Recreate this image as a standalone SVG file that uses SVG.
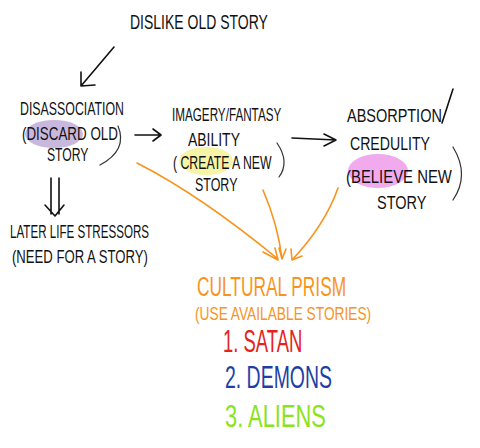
<svg xmlns="http://www.w3.org/2000/svg" width="480" height="448" viewBox="0 0 480 448">
<style>
text{font-family:"Liberation Sans",Arial,sans-serif;font-size:19px;fill:#111}
text.top{font-size:20px}
text.cp{font-size:28px}
text.big{font-size:32px}
.o{fill:#f7941d}
.ln{fill:none;stroke:#111;stroke-width:1.6;stroke-linecap:round;stroke-linejoin:round}
.par{fill:none;stroke:#333;stroke-width:1.2;stroke-linecap:round}
.or{fill:none;stroke:#f7941d;stroke-width:1.6;stroke-linecap:round;stroke-linejoin:round}
</style>
<rect width="480" height="448" fill="#fff"/>
<g id="dislike">
<text class="top" transform="translate(130,29) scale(0.70,1)">DISLIKE OLD STORY</text>
</g>
<g id="disassociation">
<ellipse cx="54" cy="134" rx="29" ry="14" fill="#c9b8dd"/>
<text transform="translate(20,115) scale(0.650,1)">DISASSOCIATION</text>
<text transform="translate(22,140) scale(0.705,1)">(DISCARD OLD</text>
<text transform="translate(47,161) scale(0.641,1)">STORY</text>
<path class="par" d="M118,126 Q128,150 100,165"/>
</g>
<g id="imagery">
<ellipse cx="206" cy="161" rx="27" ry="14" fill="#f6f4a6"/>
<text transform="translate(172,121) scale(0.615,1)">IMAGERY/FANTASY</text>
<text transform="translate(188,146) scale(0.735,1)">ABILITY</text>
<text transform="translate(173,169) scale(0.646,1)">( CREATE A NEW</text>
<text transform="translate(195,191) scale(0.656,1)">STORY</text>
<path class="par" d="M277,143 Q290,162 279,177"/>
</g>
<g id="absorption">
<ellipse cx="378" cy="171" rx="30" ry="17" fill="#f2aaee"/>
<text transform="translate(347,122) scale(0.762,1)">ABSORPTION</text>
<path class="ln" d="M453,89 L442,123"/>
<text transform="translate(350,150) scale(0.743,1)">CREDULITY</text>
<text transform="translate(346,183) scale(0.784,1)">(BELIEVE NEW</text>
<text transform="translate(377,209) scale(0.763,1)">STORY</text>
<path class="par" d="M453,147 Q470,175 453,200"/>
</g>
<g id="stressors">
<text transform="translate(10,238) scale(0.611,1)">LATER LIFE STRESSORS</text>
<text transform="translate(12,263) scale(0.691,1)">(NEED FOR A STORY)</text>
</g>
<g id="prism">
<text class="o cp" transform="translate(197,296) scale(0.619,1)">CULTURAL PRISM</text>
<text class="o" transform="translate(195,320) scale(0.723,1)">(USE AVAILABLE STORIES)</text>
<text class="big" transform="translate(223,352) scale(0.577,1)" style="fill:#e6221e">1. SATAN</text>
<text class="big" transform="translate(225,388) scale(0.608,1)" style="fill:#1f3fa5">2. DEMONS</text>
<text class="big" transform="translate(225,427) scale(0.683,1)" style="fill:#8be31b">3. ALIENS</text>
</g>
<g id="connectors">
<path class="ln" d="M114,47 L81,86 M81,72 L81,86 L95,85"/>
<path class="ln" d="M135,135 L161,135 M153,129 L161,135 L153,141"/>
<path class="ln" d="M292,138 L336,140 M324,134 L336,140 L324,146"/>
<path class="ln" d="M51,178 L51,214 M59,178 L59,214 M45,205 L55,216 L64,205"/>
<path class="or" d="M137,163 Q200,195 278,259 M263,252 L278,260 L275,248"/>
<path class="or" d="M263,190 Q278,225 282,259 M279,248 L282,259 L286,249"/>
<path class="or" d="M338,188 Q325,225 292,260 M291,249 L292,260 L302,256"/>
</g>
</svg>
